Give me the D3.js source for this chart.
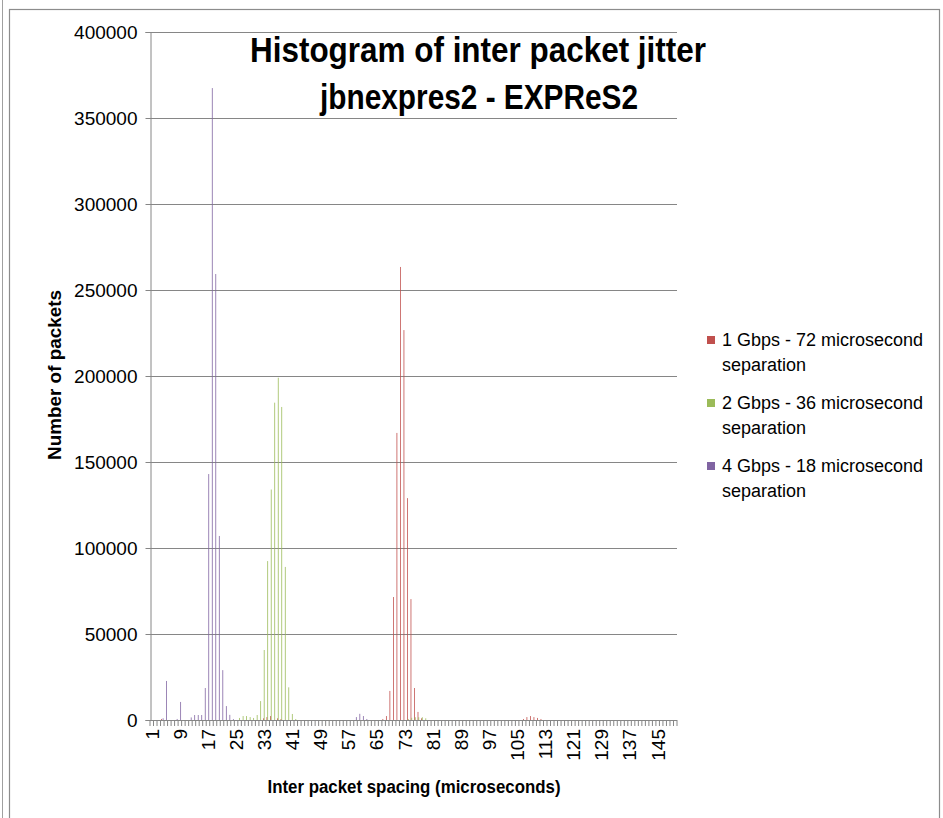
<!DOCTYPE html>
<html>
<head>
<meta charset="utf-8">
<script src="https://cdn.jsdelivr.net/npm/d3@7"></script>
<style>
  html, body { margin: 0; padding: 0; background: #fff; }
  svg { display: block; font-family: "Liberation Sans", Arial, sans-serif; }
</style>
</head>
<body>
<svg id="chart" width="943" height="818"></svg>
<script>
// Inter packet spacing bins, 1..150 microseconds
const categories = d3.range(1, 151);
const xTickLabels = [1, 9, 17, 25, 33, 41, 49, 57, 65, 73, 81, 89, 97, 105, 113, 121, 129, 137, 145];
const yTicks = [0, 50000, 100000, 150000, 200000, 250000, 300000, 350000, 400000];

const seriesNames = [
  "1 Gbps - 72 microsecond separation",
  "2 Gbps - 36 microsecond separation",
  "4 Gbps - 18 microsecond separation"
];
const seriesColors = ["#C0504D", "#9BBB59", "#8064A2"];

// Non-empty bins: [spacing (us), packet count]; every other bin is 0
const gbps1 = [
  [4, 600],
  [33, 1000], [34, 1700], [35, 2300], [37, 1000], [38, 600],
  [67, 600], [68, 2300], [69, 16900], [70, 71500], [71, 166900], [72, 263400],
  [73, 226700], [74, 129000], [75, 70300], [76, 18600], [77, 4700], [78, 1000],
  [107, 600], [108, 1700], [109, 2300], [110, 1700], [111, 1200], [112, 600]
];
const gbps2 = [
  [26, 1200], [27, 2300], [28, 2300], [29, 1700], [30, 1200], [31, 2900],
  [32, 11000], [33, 40700], [34, 92400], [35, 134000], [36, 184500], [37, 199000],
  [38, 182000], [39, 89000], [40, 19000], [41, 3500], [42, 600],
  [74, 600], [75, 1300], [76, 1600], [77, 1600], [78, 1600], [79, 1000]
];
const gbps4 = [
  [4, 1000], [5, 22700], [8, 600], [9, 10500], [12, 1500], [13, 2900], [14, 2900],
  [15, 2900], [16, 18600], [17, 143000], [18, 367400], [19, 259300], [20, 107000],
  [21, 29000], [22, 8100], [23, 3000], [24, 500],
  [59, 1700], [60, 3600], [61, 2300], [62, 600]
];
const seriesData = [gbps1, gbps2, gbps4];

const svg = d3.select("#chart");
const W = 943, H = 818;
const plot = { left: 150, top: 32, right: 677, bottom: 720 };

// Chart frame
svg.append("line").attr("x1", 2.5).attr("x2", 2.5).attr("y1", 0).attr("y2", H)
  .attr("stroke", "#a0a0a0").attr("stroke-width", 1);
svg.append("rect").attr("x", 9.5).attr("y", 9.5).attr("width", 930).attr("height", 900)
  .attr("fill", "#fff").attr("stroke", "#8c8c8c").attr("stroke-width", 1.2);

const x0 = d3.scaleBand().domain(categories).range([plot.left, plot.right]).padding(0);
const step = x0.step();
const barW = step / 4.5;
const x1 = d3.scaleBand().domain(d3.range(seriesNames.length)).range([0, barW * 3]).padding(0);
const y = d3.scaleLinear().domain([0, 400000]).range([plot.bottom, plot.top]);

// Horizontal gridlines
svg.append("g").selectAll("line").data(yTicks.filter(d => d > 0)).join("line")
  .attr("x1", plot.left).attr("x2", plot.right)
  .attr("y1", d => Math.round(y(d)) + 0.5).attr("y2", d => Math.round(y(d)) + 0.5)
  .attr("stroke", "#868686").attr("stroke-width", 1);

// Bars
const barsG = svg.append("g");
seriesData.forEach((pairs, si) => {
  const lookup = new Map(pairs);
  const rows = categories.map(c => ({ c, v: lookup.get(c) || 0 })).filter(d => d.v > 0);
  barsG.append("g").selectAll("rect").data(rows).join("rect")
    .attr("x", d => x0(d.c) + (step - barW * 3) / 2 + x1(si))
    .attr("width", barW)
    .attr("y", d => y(d.v))
    .attr("height", d => plot.bottom - y(d.v))
    .attr("fill", seriesColors[si]);
});

// Y axis
const yAxis = d3.axisLeft(y).tickValues(yTicks).tickSize(5).tickPadding(8)
  .tickFormat(d3.format("d"));
const yG = svg.append("g").attr("transform", `translate(${plot.left + 0.5},0)`).call(yAxis);
yG.select(".domain").attr("stroke", "#868686");
yG.selectAll(".tick line").attr("stroke", "#868686");
yG.selectAll(".tick text").attr("font-size", 19).attr("fill", "#000")
  .attr("font-family", "'Liberation Sans', Arial, sans-serif");

// X axis: baseline and tick marks on category boundaries
svg.append("line").attr("x1", plot.left).attr("x2", plot.right)
  .attr("y1", plot.bottom + 0.5).attr("y2", plot.bottom + 0.5).attr("stroke", "#868686");
const bounds = categories.map(c => x0(c)).concat([plot.right]);
svg.append("g").selectAll("line").data(bounds).join("line")
  .attr("x1", d => d).attr("x2", d => d)
  .attr("y1", plot.bottom).attr("y2", plot.bottom + 6)
  .attr("stroke", "#868686").attr("stroke-width", 1);

// X tick labels, rotated
const xAxis = d3.axisBottom(x0).tickValues(xTickLabels).tickSize(0).tickPadding(0);
const xG = svg.append("g").attr("transform", `translate(0,${plot.bottom})`).call(xAxis);
xG.select(".domain").remove();
xG.selectAll(".tick text")
  .attr("font-size", 19).attr("fill", "#000")
  .attr("font-family", "'Liberation Sans', Arial, sans-serif")
  .attr("text-anchor", "end")
  .attr("transform", "rotate(-90)")
  .attr("x", -9).attr("y", 0).attr("dy", "0.36em");

// Title
const title = svg.append("g").attr("font-weight", "bold").attr("text-anchor", "middle")
  .attr("font-family", "'Liberation Sans', Arial, sans-serif").attr("fill", "#000");
title.append("text").attr("x", 478).attr("y", 62).attr("font-size", 35)
  .attr("textLength", 456).attr("lengthAdjust", "spacingAndGlyphs")
  .text("Histogram of inter packet jitter");
title.append("text").attr("x", 479).attr("y", 109).attr("font-size", 35)
  .attr("textLength", 318).attr("lengthAdjust", "spacingAndGlyphs")
  .text("jbnexpres2 - EXPReS2");

// Axis titles
svg.append("text").attr("x", 414).attr("y", 793).attr("text-anchor", "middle")
  .attr("font-weight", "bold").attr("font-size", 18)
  .attr("textLength", 293).attr("lengthAdjust", "spacingAndGlyphs")
  .text("Inter packet spacing (microseconds)");
svg.append("text").attr("transform", "translate(61,375) rotate(-90)").attr("text-anchor", "middle")
  .attr("font-weight", "bold").attr("font-size", 18)
  .attr("textLength", 170).attr("lengthAdjust", "spacingAndGlyphs")
  .text("Number of packets");

// Legend
const legend = svg.append("g");
const legendLines = [
  ["1 Gbps - 72 microsecond", "separation"],
  ["2 Gbps - 36 microsecond", "separation"],
  ["4 Gbps - 18 microsecond", "separation"]
];
const legendY = [340, 403, 466];
legendLines.forEach((lines, i) => {
  legend.append("rect").attr("x", 707).attr("y", legendY[i] - 4).attr("width", 8).attr("height", 8)
    .attr("fill", seriesColors[i]);
  const t = legend.append("text").attr("x", 722).attr("y", legendY[i]).attr("font-size", 18)
    .attr("fill", "#000").attr("dy", "0.35em");
  t.append("tspan").attr("x", 722).text(lines[0]);
  t.append("tspan").attr("x", 722).attr("dy", 25).text(lines[1]);
});
</script>
</body>
</html>
